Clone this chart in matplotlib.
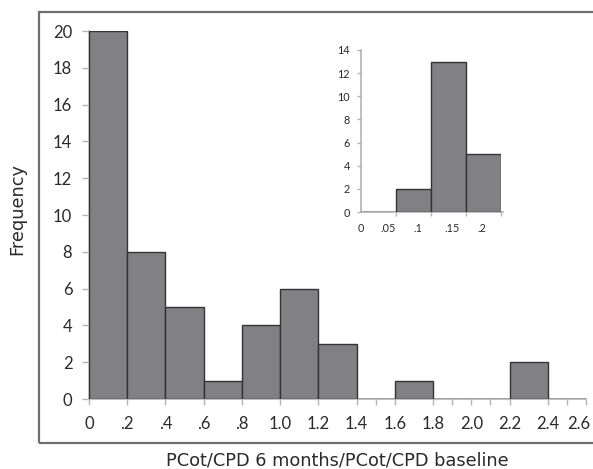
import matplotlib
matplotlib.use("Agg")
import matplotlib.pyplot as plt
import matplotlib.transforms as mtransforms
from matplotlib.patches import Rectangle

plt.rcParams['font.family'] = ['Lato', 'DejaVu Sans']

# Main histogram data
main_edges = [0.0, 0.2, 0.4, 0.6, 0.8, 1.0, 1.2, 1.4, 1.6, 1.8, 2.0, 2.2, 2.4, 2.6]
main_counts = [20, 8, 5, 1, 4, 6, 3, 0, 1, 0, 0, 2, 0]
main_xticks = [0, 0.2, 0.4, 0.6, 0.8, 1.0, 1.2, 1.4, 1.6, 1.8, 2.0, 2.2, 2.4, 2.6]
main_xticklabels = ['0', '.2', '.4', '.6', '.8', '1.0', '1.2', '1.4', '1.6', '1.8', '2.0', '2.2', '2.4', '2.6']
main_minor = [1.5, 1.9, 2.1, 2.5]
main_yticks = [0, 2, 4, 6, 8, 10, 12, 14, 16, 18, 20]

# Inset histogram data
inset_edges = [0.0, 0.05, 0.10, 0.15, 0.20]
inset_counts = [0, 2, 13, 5]
inset_tick_marks = [0.0, 0.05, 0.10, 0.15, 0.20]
inset_label_pos = [0.0, 0.039, 0.081, 0.13, 0.173]
inset_labels = ['0', '.05', '.1', '.15', '.2']
inset_yticks = [0, 2, 4, 6, 8, 10, 12, 14]

W, H = 593, 469
fig = plt.figure(figsize=(W / 100, H / 100), dpi=100)

bar_color = '#818184'
edge_color = '#333333'
axis_gray = '#b3b3b3'
text_color = '#2a2a2a'
label_font = ['DejaVu Sans']

# outer frame
frame = Rectangle((39 / W, 1 - 443 / H), 1.0, (443 - 12) / H, transform=fig.transFigure,
                  fill=False, edgecolor='#6e6e6e', linewidth=1.6, clip_on=False)
fig.patches.append(frame)

ax = fig.add_axes([89 / W, 1 - 399 / H, (586 - 89) / W, (399 - 31) / H])
widths = [main_edges[i + 1] - main_edges[i] for i in range(len(main_counts))]
ax.bar(main_edges[:-1], main_counts, width=widths, align='edge',
       color=bar_color, edgecolor=edge_color, linewidth=1.0, zorder=3)
ax.set_xlim(0, 2.6)
ax.set_ylim(0, 20)
for s in ['top', 'right']:
    ax.spines[s].set_visible(False)
for s in ['left', 'bottom']:
    ax.spines[s].set_color(axis_gray)
    ax.spines[s].set_linewidth(1.2)
ax.set_xticks(main_xticks)
ax.set_xticklabels(main_xticklabels)
ax.set_xticks(main_minor, minor=True)
ax.set_yticks(main_yticks)
ax.tick_params(axis='x', which='both', length=4, width=1.0, color=axis_gray,
               labelsize=12, labelcolor=text_color, pad=8)
ax.tick_params(axis='y', length=5, width=1.0, color=axis_gray,
               labelsize=12, labelcolor=text_color, pad=7)
# nudge the last tick label left so it stays inside the picture
last = ax.get_xticklabels()[-1]
last.set_transform(last.get_transform() + mtransforms.ScaledTranslation(-7 / 100, 0, fig.dpi_scale_trans))
ax.set_ylabel('Frequency', fontsize=12.8, color=text_color, family=label_font)
ax.yaxis.set_label_coords(-63 / (586 - 89), (399 - 209) / (399 - 31))
ax.set_xlabel('PCot/CPD 6 months/PCot/CPD baseline', fontsize=12.8, color=text_color,
              labelpad=14, family=label_font)
ax.patch.set_alpha(0)

# inset
ai = fig.add_axes([361 / W, 1 - 212 / H, 140 / W, (212 - 50) / H])
iw = [inset_edges[i + 1] - inset_edges[i] for i in range(len(inset_counts))]
ai.bar(inset_edges[:-1], inset_counts, width=iw, align='edge',
       color=bar_color, edgecolor=edge_color, linewidth=1.0, zorder=3)
ai.set_xlim(0, 0.2)
ai.set_ylim(0, 14)
for s in ['top', 'right']:
    ai.spines[s].set_visible(False)
for s in ['left', 'bottom']:
    ai.spines[s].set_color(axis_gray)
    ai.spines[s].set_linewidth(1.2)
ai.spines['bottom'].set_bounds(0, 0.203)
ai.set_xticks(inset_label_pos)
ai.set_xticklabels(inset_labels)
ai.set_xticks(inset_tick_marks, minor=True)
ai.tick_params(axis='x', which='major', length=0, labelsize=7.8, labelcolor=text_color, pad=8)
ai.tick_params(axis='x', which='minor', length=3, width=1.0, color=axis_gray)
ai.set_yticks(inset_yticks)
ai.tick_params(axis='y', length=3, width=1.0, color=axis_gray, labelsize=7.8,
               labelcolor=text_color, pad=5)
ai.patch.set_alpha(0)

fig.savefig('out.png', dpi=100)
